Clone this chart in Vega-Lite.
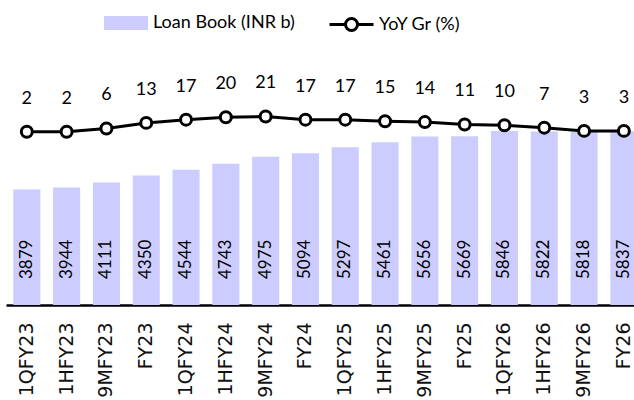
{
  "$schema": "https://vega.github.io/schema/vega-lite/v6.json",
  "width": 634,
  "height": 245,
  "autosize": {"type": "none"},
  "padding": {"left": 0, "top": 60, "right": 0, "bottom": 95},
  "background": "white",
  "config": {"view": {"stroke": null}},
  "data": {
    "values": [
      {"period": "1QFY23", "loan": 3879, "yoy": 2},
      {"period": "1HFY23", "loan": 3944, "yoy": 2},
      {"period": "9MFY23", "loan": 4111, "yoy": 6},
      {"period": "FY23", "loan": 4350, "yoy": 13},
      {"period": "1QFY24", "loan": 4544, "yoy": 17},
      {"period": "1HFY24", "loan": 4743, "yoy": 20},
      {"period": "9MFY24", "loan": 4975, "yoy": 21},
      {"period": "FY24", "loan": 5094, "yoy": 17},
      {"period": "1QFY25", "loan": 5297, "yoy": 17},
      {"period": "1HFY25", "loan": 5461, "yoy": 15},
      {"period": "9MFY25", "loan": 5656, "yoy": 14},
      {"period": "FY25", "loan": 5669, "yoy": 11},
      {"period": "1QFY26", "loan": 5846, "yoy": 10},
      {"period": "1HFY26", "loan": 5822, "yoy": 7},
      {"period": "9MFY26", "loan": 5818, "yoy": 3},
      {"period": "FY26", "loan": 5837, "yoy": 3}
    ]
  },
  "encoding": {
    "x": {
      "field": "period",
      "type": "nominal",
      "sort": null,
      "scale": {"range": [6, 644.7], "paddingInner": 0.32, "paddingOuter": 0.183},
      "axis": {
        "title": null,
        "labelAngle": -90,
        "labelFont": "DejaVu Sans",
        "labelFontSize": 19,
        "labelColor": "#111111",
        "labelPadding": 17,
        "ticks": false,
        "domainColor": "black",
        "domainWidth": 2.5
      }
    }
  },
  "layer": [
    {
      "layer": [
        {
          "mark": {"type": "bar"},
          "encoding": {
            "y": {"field": "loan", "type": "quantitative", "scale": {"domain": [0, 8227]}, "axis": null},
            "fill": {
              "datum": "Loan Book (INR b)",
              "scale": {"range": ["#CCCCFF"]},
              "legend": {
                "title": null,
                "orient": "none",
                "legendX": 104,
                "legendY": -59,
                "padding": 0,
                "symbolType": "M-1,-0.318H1V0.318H-1Z",
                "symbolSize": 1936,
                "symbolStrokeWidth": 0,
                "labelFont": "Lato",
                "labelFontSize": 18,
                "labelColor": "black",
                "labelOffset": 5
              }
            }
          }
        },
        {
          "mark": {"type": "text", "angle": 270, "align": "left", "baseline": "middle", "dx": 26, "font": "Lato", "fontSize": 17, "color": "black"},
          "encoding": {
            "y": {"datum": 0, "type": "quantitative", "scale": {"domain": [0, 8227]}},
            "text": {"field": "loan", "type": "quantitative", "format": "d"}
          }
        }
      ]
    },
    {
      "layer": [
        {
          "mark": {"type": "line", "strokeWidth": 3, "point": {"filled": true, "fill": "white", "stroke": "black", "strokeWidth": 3, "size": 120}},
          "encoding": {
            "y": {"field": "yoy", "type": "quantitative", "scale": {"domain": [-214.6, 91.6]}, "axis": null},
            "stroke": {
              "datum": "YoY Gr (%)",
              "scale": {"range": ["black"]},
              "legend": {
                "title": null,
                "orient": "none",
                "legendX": 328,
                "legendY": -59,
                "padding": 0,
                "symbolType": "M-1,0H-0.273M0.273,0H1M-0.273,0A0.273,0.273,0,1,1,0.273,0A0.273,0.273,0,1,1,-0.273,0",
                "symbolSize": 1936,
                "symbolStrokeWidth": 3,
                "symbolFillColor": "white",
                "symbolStrokeColor": "black",
                "labelFont": "Lato",
                "labelFontSize": 18,
                "labelColor": "black",
                "labelOffset": 4
              }
            }
          }
        },
        {
          "mark": {"type": "text", "baseline": "alphabetic", "dy": -28, "font": "Lato", "fontSize": 18, "color": "black"},
          "encoding": {
            "y": {"field": "yoy", "type": "quantitative", "scale": {"domain": [-214.6, 91.6]}},
            "text": {"field": "yoy", "type": "quantitative", "format": "d"}
          }
        }
      ]
    }
  ],
  "resolve": {"scale": {"y": "independent", "fill": "independent", "stroke": "independent"}}
}
